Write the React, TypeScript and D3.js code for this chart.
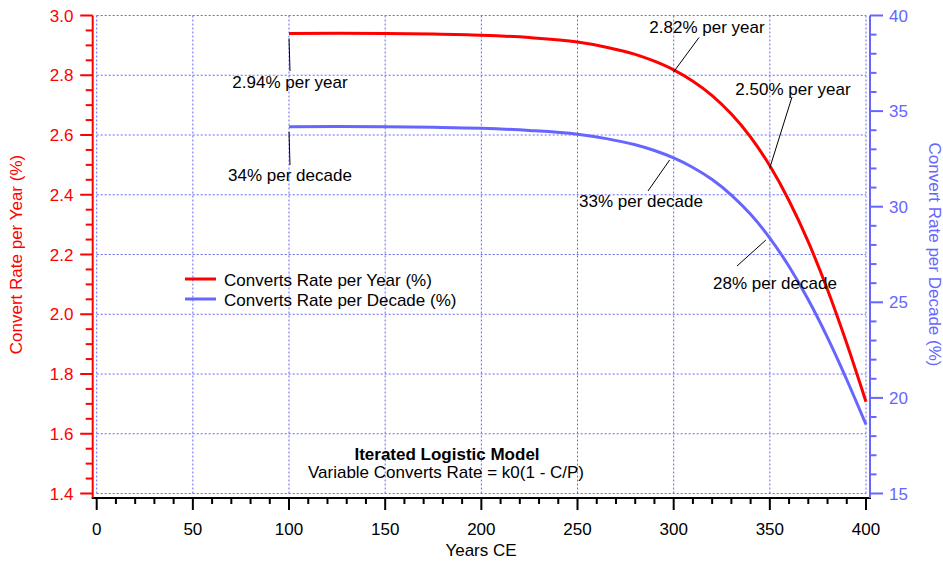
import React from "react";
import * as d3 from "d3";

const years = [100, 125, 150, 175, 200, 225, 250, 265, 280, 290, 300, 310, 320, 330, 340, 350, 360, 370, 380, 390, 400];
const ratePerYear = [2.94, 2.941, 2.94, 2.938, 2.934, 2.926, 2.911, 2.894, 2.87, 2.847, 2.818, 2.78, 2.732, 2.67, 2.593, 2.497, 2.38, 2.242, 2.082, 1.902, 1.707];
const ratePerDecade = [34.18, 34.19, 34.18, 34.15, 34.1, 33.99, 33.79, 33.56, 33.24, 32.94, 32.55, 32.05, 31.42, 30.61, 29.6, 28.36, 26.87, 25.13, 23.15, 20.95, 18.61];

const xTicks = [0, 50, 100, 150, 200, 250, 300, 350, 400];
const leftTicks = [1.4, 1.6, 1.8, 2.0, 2.2, 2.4, 2.6, 2.8, 3.0];
const rightTicks = [15, 20, 25, 30, 35, 40];

const yearLabels = [
  { text: "2.94% per year", year: 100, value: 2.94, lx: 290, ly: 88, fx: 290, fy: 71 },
  { text: "2.82% per year", year: 300, value: 2.818, lx: 707, ly: 33, fx: 699, fy: 37.5 },
  { text: "2.50% per year", year: 350, value: 2.497, lx: 793, ly: 95, fx: 792, fy: 97 },
];
const decadeLabels = [
  { text: "34% per decade", year: 100, value: 34.18, lx: 290, ly: 181, fx: 290, fy: 165 },
  { text: "33% per decade", year: 300, value: 32.55, lx: 641, ly: 207, fx: 648, fy: 191 },
  { text: "28% per decade", year: 350, value: 28.36, lx: 775, ly: 289, fx: 737, fy: 266 },
];

const RED = "#ff0000";
const BLUE = "#6666ff";
const FONT = "'Liberation Sans', Arial, Helvetica, sans-serif";

export default function App() {
  const W = 943;
  const H = 561;
  const x = d3.scaleLinear().domain([0, 400]).range([96.7, 866]);
  const yL = d3.scaleLinear().domain([1.4, 3.0]).range([493.5, 15.5]);
  const yR = d3.scaleLinear().domain([15, 40]).range([493.5, 15.5]);

  const redLine = d3
    .line<number>()
    .x((_, i) => x(years[i]))
    .y((d) => yL(d))
    .curve(d3.curveMonotoneX)(ratePerYear) as string;
  const blueLine = d3
    .line<number>()
    .x((_, i) => x(years[i]))
    .y((d) => yR(d))
    .curve(d3.curveMonotoneX)(ratePerDecade) as string;

  const axisBottomY = 498;
  const axisLeftX = 92.7;
  const axisRightX = 870;

  const xMinor = d3.range(0, 401, 10);
  const leftMinor = d3.range(0, 33).map((i) => 1.4 + i * 0.05);
  const rightMinor = d3.range(15, 41, 1);

  return (
    <div style={{ position: "absolute", left: 0, top: 0 }}>
      <svg width={W} height={H} style={{ display: "block", background: "#fff" }} fontFamily={FONT}>
        <rect width={W} height={H} fill="#fff" />
        {/* grid */}
        <g stroke={BLUE} strokeWidth={1} strokeDasharray="2,2" fill="none">
          {leftTicks.map((t) => (
            <line key={"h" + t} x1={x(0)} x2={x(400)} y1={yL(t)} y2={yL(t)} />
          ))}
          {xTicks.map((t) => (
            <line key={"v" + t} x1={x(t)} x2={x(t)} y1={yL(3.0)} y2={yL(1.4)} />
          ))}
        </g>

        {/* bottom axis */}
        <g stroke="#000" strokeWidth={2}>
          <line x1={axisLeftX - 1} x2={axisRightX + 1} y1={axisBottomY} y2={axisBottomY} />
          {xMinor.map((t) => (
            <line key={"xm" + t} x1={x(t)} x2={x(t)} y1={axisBottomY} y2={axisBottomY + (t % 50 === 0 ? 12 : 6)} />
          ))}
        </g>
        <g fontSize={17} textAnchor="middle" fill="#000">
          {xTicks.map((t) => (
            <text key={"xl" + t} x={x(t)} y={535}>
              {t}
            </text>
          ))}
          <text x={481} y={556}>Years CE</text>
        </g>

        {/* left axis */}
        <g stroke={RED} strokeWidth={2}>
          <line x1={axisLeftX} x2={axisLeftX} y1={15.5} y2={axisBottomY} />
          {leftMinor.map((t, i) => (
            <line key={"lm" + i} x1={axisLeftX - (i % 4 === 0 ? 12.5 : 7)} x2={axisLeftX} y1={yL(t)} y2={yL(t)} />
          ))}
        </g>
        <g fontSize={17} textAnchor="end" fill={RED}>
          {leftTicks.map((t) => (
            <text key={"ll" + t} x={73.5} y={yL(t) + 6}>
              {d3.format(".1f")(t)}
            </text>
          ))}
          <text transform={`translate(22,${(15.5 + 493.5) / 2}) rotate(-90)`} textAnchor="middle">
            Convert Rate per Year (%)
          </text>
        </g>

        {/* right axis */}
        <g stroke={BLUE} strokeWidth={2}>
          <line x1={axisRightX} x2={axisRightX} y1={15.5} y2={axisBottomY} />
          {rightMinor.map((t) => (
            <line key={"rm" + t} x1={axisRightX} x2={axisRightX + (t % 5 === 0 ? 13 : 6.5)} y1={yR(t)} y2={yR(t)} />
          ))}
        </g>
        <g fontSize={17} textAnchor="start" fill={BLUE}>
          {rightTicks.map((t) => (
            <text key={"rl" + t} x={889} y={yR(t) + 6}>
              {t}
            </text>
          ))}
          <text transform={`translate(929,${(15.5 + 493.5) / 2}) rotate(90)`} textAnchor="middle">
            Convert Rate per Decade (%)
          </text>
        </g>

        {/* series */}
        <path d={redLine} fill="none" stroke={RED} strokeWidth={3} />
        <path d={blueLine} fill="none" stroke={BLUE} strokeWidth={3} />

        {/* annotations */}
        <g stroke="#000" strokeWidth={1}>
          {yearLabels.map((a) => (
            <line key={"ya" + a.text} x1={a.fx} y1={a.fy} x2={x(a.year)} y2={yL(a.value) + (a.year === 100 ? 5 : 2)} />
          ))}
          {decadeLabels.map((a) => (
            <line key={"da" + a.text} x1={a.fx} y1={a.fy} x2={x(a.year) - (a.year === 100 ? 0 : 4)} y2={yR(a.value) + (a.year === 100 ? 5 : 2)} />
          ))}
        </g>
        <g fontSize={17} textAnchor="middle" fill="#000">
          {yearLabels.map((a) => (
            <text key={"yt" + a.text} x={a.lx} y={a.ly}>
              {a.text}
            </text>
          ))}
          {decadeLabels.map((a) => (
            <text key={"dt" + a.text} x={a.lx} y={a.ly}>
              {a.text}
            </text>
          ))}
        </g>

        {/* legend */}
        <line x1={185} x2={216} y1={279} y2={279} stroke={RED} strokeWidth={3} />
        <line x1={185} x2={216} y1={299} y2={299} stroke={BLUE} strokeWidth={3} />
        <g fontSize={17} fill="#000">
          <text x={224} y={285.5}>Converts Rate per Year (%)</text>
          <text x={224} y={305.5}>Converts Rate per Decade (%)</text>
        </g>

        {/* title */}
        <g textAnchor="middle" fill="#000" fontSize={17}>
          <text x={447} y={460} fontWeight="bold">Iterated Logistic Model</text>
          <text x={446} y={478}>Variable Converts Rate = k0(1 - C/P)</text>
        </g>
      </svg>
    </div>
  );
}
